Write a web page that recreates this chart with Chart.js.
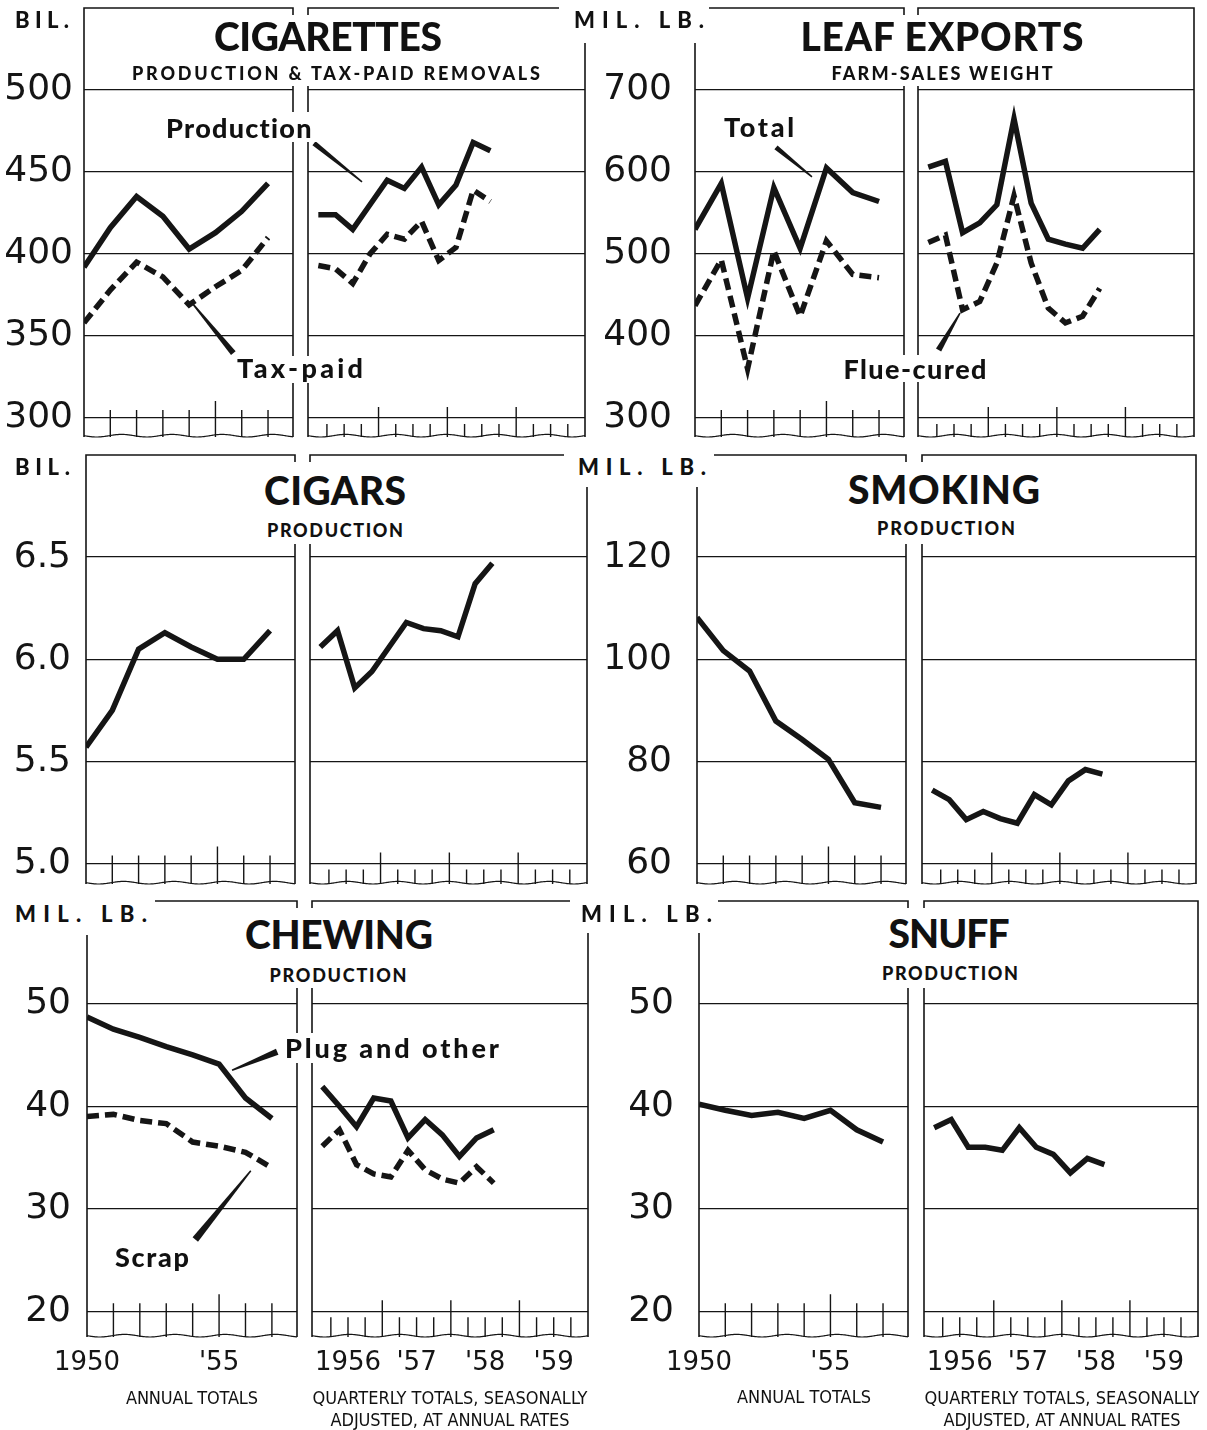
<!DOCTYPE html>
<html>
<head>
<meta charset="utf-8">
<title>Tobacco products: production and exports</title>
<script src="https://cdn.jsdelivr.net/npm/chart.js@4"></script>
<style>
  body { margin: 0; background: #fff; }
  #page { position: relative; width: 1207px; height: 1430px; overflow: hidden; background: #fff; }
  #page canvas { position: absolute; }
  .mask { position: absolute; background: #fff; }
  .lbl { position: absolute; white-space: nowrap; line-height: 1; color: #111;
         font-family: Lato, 'DejaVu Sans', sans-serif; font-weight: 900; }
  .cond { font-family: 'DejaVu Sans Condensed', 'Liberation Sans Narrow', 'DejaVu Sans', sans-serif;
          font-stretch: condensed; font-weight: 400; }
</style>
</head>
<body>
<div id="page"></div>
<script>
// ---- data ----
const annualYears = [1950, 1951, 1952, 1953, 1954, 1955, 1956, 1957];
const quarters = ['1956 I', '1956 II', '1956 III', '1956 IV', '1957 I', '1957 II',
                  '1957 III', '1957 IV', '1958 I', '1958 II', '1958 III'];

const cigProdAnnual = [392, 416, 435, 423, 403, 413, 426, 443];
const cigTaxAnnual  = [358, 378, 395, 386, 369, 380, 390, 410];
const cigProdQtr    = [424, 424, 415, 430, 445, 440, 453, 430, 442, 468, 463];
const cigTaxQtr     = [393, 391, 382, 400, 412, 409, 420, 396, 404, 439, 432];

const leafTotalAnnual = [530, 586, 446, 581, 507, 605, 575, 564];
const leafFlueAnnual  = [437, 493, 360, 504, 424, 516, 475, 471];
const leafTotalQtr    = [606, 613, 526, 538, 560, 665, 562, 518, 512, 507, 530];
const leafFlueQtr     = [514, 523, 432, 442, 489, 571, 489, 434, 416, 424, 458];

const cigarsAnnual = [5.57, 5.75, 6.05, 6.13, 6.06, 6.00, 6.00, 6.14];
const cigarsQtr    = [6.06, 6.14, 5.86, 5.94, 6.06, 6.18, 6.15, 6.14, 6.11, 6.37, 6.47];

const smokingAnnual = [108.2, 101.7, 97.7, 87.9, 84.3, 80.4, 71.9, 71.0];
const smokingQtr    = [74.4, 72.5, 68.6, 70.2, 68.8, 67.9, 73.5, 71.5, 76.2, 78.4, 77.5];

const plugAnnual  = [48.7, 47.5, 46.7, 45.8, 45.0, 44.1, 40.8, 38.8];
const scrapAnnual = [39.0, 39.2, 38.6, 38.3, 36.5, 36.1, 35.5, 34.0];
const plugQtr     = [41.9, 40.0, 38.0, 40.8, 40.5, 36.9, 38.7, 37.2, 35.1, 36.9, 37.7];
const scrapQtr    = [36.1, 37.7, 34.3, 33.4, 33.1, 35.7, 33.8, 32.9, 32.5, 34.1, 32.5];

const snuffAnnual = [40.2, 39.6, 39.1, 39.4, 38.8, 39.6, 37.7, 36.5];
const snuffQtr    = [37.9, 38.7, 36.0, 36.0, 35.7, 37.9, 36.0, 35.3, 33.5, 34.9, 34.3];

const cigTicks     = [300, 350, 400, 450, 500];
const leafTicks    = [300, 400, 500, 600, 700];
const cigarTicks   = [5.0, 5.5, 6.0, 6.5];
const smokingTicks = [60, 80, 100, 120];
const chewTicks    = [20, 30, 40, 50];
const snuffTicks   = [20, 30, 40, 50];

const annualLabelPos  = [0, 5];
const annualLabelText = ['1950', "'55"];
const qtrLabelPos     = [2, 6, 10, 14];
const qtrLabelText    = ['1956', "'57", "'58", "'59"];

const INK = '#151515';

// ---- layout of the three rows (plot edges in page pixels) ----
const rows = [
  { top: 8,   bottom: 437,  L: [84, 293, 308, 585], R: [695, 904, 918, 1194], padL: 11, padR: 23 },
  { top: 455, bottom: 884,  L: [86, 295, 310, 587], R: [697, 906, 922, 1196], padL: 15, padR: 25 },
  { top: 901, bottom: 1337, L: [87, 297, 312, 588], R: [699, 908, 924, 1198], padL: 16, padR: 25 }
];

const panels = [
  { row: 0, col: 'L', ymin: 288.4, ymax: 550, yTicks: cigTicks, dec: 0,
    annual: [cigProdAnnual, cigTaxAnnual], qtr: [cigProdQtr, cigTaxQtr], dashed: [false, true],
    leadA: [{ x1: 4.08, y1: 370.7, x2: 5.68, y2: 339.6, w1: 1.5, w2: 6 }],
    leadQ: [{ x1: 0.25, y1: 467.5, x2: 3.04, y2: 444, w1: 5, w2: 1.5 }] },
  { row: 0, col: 'R', ymin: 276.8, ymax: 800, yTicks: leafTicks, dec: 0,
    annual: [leafTotalAnnual, leafFlueAnnual], qtr: [leafTotalQtr, leafFlueQtr], dashed: [false, true],
    leadA: [{ x1: 3.08, y1: 630, x2: 4.45, y2: 594, w1: 5, w2: 1.5 }],
    leadQ: [{ x1: 1.1, y1: 383, x2: 2.35, y2: 428, w1: 6, w2: 1.5 }] },
  { row: 1, col: 'L', ymin: 4.9, ymax: 7.0, yTicks: cigarTicks, dec: 1,
    annual: [cigarsAnnual], qtr: [cigarsQtr], dashed: [false], leadA: [], leadQ: [] },
  { row: 1, col: 'R', ymin: 56, ymax: 140, yTicks: smokingTicks, dec: 0,
    annual: [smokingAnnual], qtr: [smokingQtr], dashed: [false], leadA: [], leadQ: [] },
  { row: 2, col: 'L', ymin: 17.5, ymax: 60, yTicks: chewTicks, dec: 0,
    annual: [plugAnnual, scrapAnnual], qtr: [plugQtr, scrapQtr], dashed: [false, true],
    leadA: [{ x1: 5.49, y1: 43.5, x2: 7.2, y2: 45.3, w1: 1.5, w2: 6.5 },
            { x1: 6.2, y1: 33.7, x2: 4.1, y2: 27.0, w1: 1.5, w2: 7 }],
    leadQ: [] },
  { row: 2, col: 'R', ymin: 17.5, ymax: 60, yTicks: snuffTicks, dec: 0,
    annual: [snuffAnnual], qtr: [snuffQtr], dashed: [false], leadA: [], leadQ: [] }
];

// frame, scalloped bottom edge, tick marks and leader wedges
const decor = {
  id: 'decor',
  beforeDatasetsDraw(chart, args, opt) {
    const { ctx, chartArea: a } = chart;
    const xs = chart.scales.x, ys = chart.scales.y;
    ctx.save();
    ctx.strokeStyle = INK;
    ctx.lineWidth = 1.6;
    ctx.beginPath();
    ctx.moveTo(a.left, a.bottom); ctx.lineTo(a.left, a.top);
    ctx.lineTo(a.right, a.top); ctx.lineTo(a.right, a.bottom);
    ctx.stroke();
    ctx.lineWidth = 1.2;
    ctx.beginPath();
    for (let px = a.left; px <= a.right; px++) {
      const py = a.bottom - 1.3 + 1.3 * Math.sin((px - a.left) / 8);
      if (px === a.left) ctx.moveTo(px, py); else ctx.lineTo(px, py);
    }
    ctx.stroke();
    const base = ys.getPixelForValue(opt.base);
    ctx.lineWidth = 1.4;
    ctx.beginPath();
    opt.marks.forEach(m => {
      const px = xs.getPixelForValue(m.v);
      ctx.moveTo(px, a.bottom);
      ctx.lineTo(px, base + m.dy);
    });
    ctx.stroke();
    ctx.restore();
  },
  afterDatasetsDraw(chart, args, opt) {
    const { ctx } = chart;
    const xs = chart.scales.x, ys = chart.scales.y;
    ctx.save();
    ctx.fillStyle = INK;
    opt.leaders.forEach(l => {
      const x1 = xs.getPixelForValue(l.x1), y1 = ys.getPixelForValue(l.y1);
      const x2 = xs.getPixelForValue(l.x2), y2 = ys.getPixelForValue(l.y2);
      const len = Math.hypot(x2 - x1, y2 - y1);
      const nx = -(y2 - y1) / len, ny = (x2 - x1) / len;
      ctx.beginPath();
      ctx.moveTo(x1 + nx * l.w1 / 2, y1 + ny * l.w1 / 2);
      ctx.lineTo(x2 + nx * l.w2 / 2, y2 + ny * l.w2 / 2);
      ctx.lineTo(x2 - nx * l.w2 / 2, y2 - ny * l.w2 / 2);
      ctx.lineTo(x1 - nx * l.w1 / 2, y1 - ny * l.w1 / 2);
      ctx.closePath();
      ctx.fill();
    });
    ctx.restore();
  }
};

const page = document.getElementById('page');

function addChart(p, kind) {
  const r = rows[p.row];
  const edges = r[p.col];
  const isAnnual = kind === 'annual';
  const left = isAnnual ? edges[0] : edges[2];
  const right = isAnnual ? edges[1] : edges[3];
  const showX = p.row === 2;
  const padT = 6, padB = 4, padS = 4;
  const axisH = showX ? 52 : 0;
  const cLeft = isAnnual ? (p.col === 'L' ? 0 : 592) : left - padS;
  const axisW = isAnnual ? left - cLeft : 0;
  const w = right + padS - cLeft;
  const h = padT + (r.bottom - r.top) + axisH + padB;

  const cv = document.createElement('canvas');
  cv.width = w; cv.height = h;
  cv.style.left = cLeft + 'px';
  cv.style.top = (r.top - padT) + 'px';
  cv.style.width = w + 'px';
  cv.style.height = h + 'px';
  page.appendChild(cv);

  const xsOf = isAnnual ? annualYears.map(y => y - 1950) : quarters.map((q, i) => i + 0.5);
  const series = isAnnual ? p.annual : p.qtr;
  const datasets = series.map((vals, k) => ({
    data: vals.map((v, i) => ({ x: xsOf[i], y: v })),
    borderColor: INK,
    borderWidth: 5.5,
    borderDash: p.dashed[k] ? [12, 6] : [],
    borderJoinStyle: 'miter',
    borderCapStyle: 'butt',
    pointRadius: 0,
    fill: false,
    tension: 0
  }));

  const marks = isAnnual
    ? [1, 2, 3, 4, 5, 6, 7].map(v => ({ v, dy: v === 5 ? -17 : -8 }))
    : [1, 2, 3, 4, 5, 6, 7, 8, 9, 10, 11, 12, 13, 14, 15].map(v => ({ v, dy: v % 4 === 0 ? -11 : 6 }));

  const xPos = isAnnual ? annualLabelPos : qtrLabelPos;
  const xText = isAnnual ? annualLabelText : qtrLabelText;

  new Chart(cv, {
    type: 'line',
    data: { datasets },
    plugins: [decor],
    options: {
      responsive: false,
      animation: false,
      devicePixelRatio: 1,
      layout: { autoPadding: false, padding: { left: isAnnual ? 0 : padS, right: padS, top: padT, bottom: padB } },
      plugins: {
        legend: { display: false },
        tooltip: { enabled: false },
        decor: { base: p.yTicks[0], marks, leaders: isAnnual ? p.leadA : p.leadQ }
      },
      scales: {
        x: {
          type: 'linear',
          min: isAnnual ? 0 : -0.1,
          max: isAnnual ? 7.95 : 16,
          grid: { display: false, drawTicks: false },
          border: { display: false },
          afterBuildTicks: s => { s.ticks = xPos.map(v => ({ value: v })); },
          afterFit: s => { s.height = axisH; s.paddingLeft = 0; s.paddingRight = 0; },
          ticks: {
            display: showX,
            autoSkip: false,
            maxRotation: 0,
            padding: 11,
            color: INK,
            font: { family: 'DejaVu Sans', size: 26 },
            callback: (v, i) => xText[i]
          }
        },
        y: {
          type: 'linear',
          min: p.ymin,
          max: p.ymax,
          grid: { color: INK, lineWidth: 1.3, drawTicks: false },
          border: { display: false },
          afterBuildTicks: s => { s.ticks = p.yTicks.map(v => ({ value: v })); },
          afterFit: s => { s.width = axisW; s.paddingTop = 0; s.paddingBottom = 0; },
          ticks: {
            display: isAnnual,
            padding: p.col === 'L' ? r.padL : r.padR,
            color: INK,
            font: { family: 'DejaVu Sans', size: 36 },
            callback: v => v.toFixed(p.dec)
          }
        }
      }
    }
  });
}

panels.forEach(p => { addChart(p, 'annual'); addChart(p, 'quarterly'); });

// white boxes where titles and labels interrupt the frames
const masks = [
  [559, 0, 150, 43], [125, 15, 425, 71], [795, 15, 295, 71],
  [160, 112, 160, 30], [232, 356, 140, 27], [717, 112, 85, 30], [838, 355, 155, 27],
  [564, 450, 150, 37], [255, 462, 162, 82], [838, 462, 215, 82],
  [0, 895, 155, 40], [570, 895, 148, 38], [235, 908, 212, 80], [875, 908, 150, 80],
  [282, 1033, 224, 30], [110, 1243, 85, 28]
];
masks.forEach(m => {
  const d = document.createElement('div');
  d.className = 'mask';
  d.style.left = m[0] + 'px'; d.style.top = m[1] + 'px';
  d.style.width = m[2] + 'px'; d.style.height = m[3] + 'px';
  page.appendChild(d);
});

// text: [text, x, centre y, font size, target width, align, condensed]
const texts = [
  ['BIL.', 15, 20, 22, 54, 'l'],
  ['MIL. LB.', 574, 20, 22, 130, 'l'],
  ['CIGARETTES', 328, 36, 39, 228, 'c'],
  ['PRODUCTION & TAX-PAID REMOVALS', 336, 73, 18, 408, 'c'],
  ['LEAF EXPORTS', 942, 36, 39, 283, 'c'],
  ['FARM-SALES WEIGHT', 942, 73, 18, 221, 'c'],
  ['Production', 239, 127, 27, 146, 'c'],
  ['Tax-paid', 300, 367, 27, 126, 'c'],
  ['Total', 759, 126, 27, 70, 'c'],
  ['Flue-cured', 915, 368, 27, 143, 'c'],
  ['BIL.', 15, 467, 22, 55, 'l'],
  ['MIL. LB.', 578, 467, 22, 128, 'l'],
  ['CIGARS', 335, 490, 39, 142, 'c'],
  ['PRODUCTION', 335, 530, 18, 136, 'c'],
  ['SMOKING', 944, 489, 39, 192, 'c'],
  ['PRODUCTION', 946, 528, 18, 138, 'c'],
  ['MIL. LB.', 15, 914, 22, 132, 'l'],
  ['MIL. LB.', 581, 914, 22, 131, 'l'],
  ['CHEWING', 339, 934, 39, 188, 'c'],
  ['PRODUCTION', 338, 975, 18, 137, 'c'],
  ['SNUFF', 949, 933, 39, 121, 'c'],
  ['PRODUCTION', 950, 973, 18, 136, 'c'],
  ['Plug and other', 392, 1047, 27, 214, 'c'],
  ['Scrap', 152, 1256, 27, 74, 'c'],
  ['ANNUAL TOTALS', 192, 1398, 18, 132, 'c', true],
  ['QUARTERLY TOTALS, SEASONALLY', 450, 1398, 18, 275, 'c', true],
  ['ADJUSTED, AT ANNUAL RATES', 450, 1420, 18, 239, 'c', true],
  ['ANNUAL TOTALS', 804, 1397, 18, 134, 'c', true],
  ['QUARTERLY TOTALS, SEASONALLY', 1062, 1398, 18, 275, 'c', true],
  ['ADJUSTED, AT ANNUAL RATES', 1062, 1420, 18, 237, 'c', true]
];

texts.forEach(t => {
  const [str, x, y, size, target, align, cond] = t;
  const el = document.createElement('div');
  el.className = 'lbl' + (cond ? ' cond' : '');
  el.textContent = str;
  el.style.fontSize = size + 'px';
  page.appendChild(el);
  const nat = el.getBoundingClientRect().width;
  let ls = (target - nat) / Math.max(1, str.length - 1);
  let sx = 1;
  if (ls < -1) { ls = 0; sx = target / nat; }
  el.style.letterSpacing = ls + 'px';
  el.style.transformOrigin = '0 50%';
  el.style.transform = 'translateY(-50%) scaleX(' + sx + ')';
  el.style.left = (align === 'c' ? x - target / 2 : x) + 'px';
  el.style.top = y + 'px';
});
</script>
</body>
</html>
